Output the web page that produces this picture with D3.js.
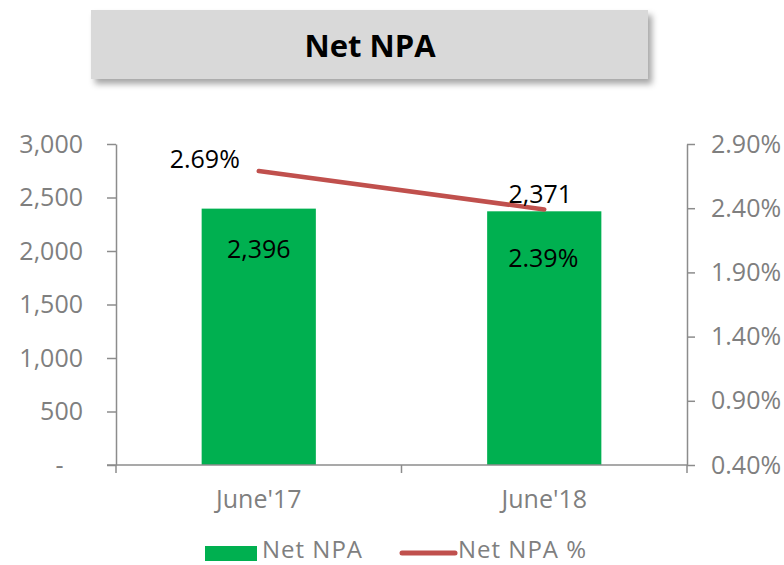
<!DOCTYPE html>
<html>
<head>
<meta charset="utf-8">
<script src="https://cdn.jsdelivr.net/npm/d3@7"></script>
<style>
    body { margin: 0; background: #fff; }
    svg { display: block; font-family: "Open Sans", sans-serif; }
</style>
</head>
<body>
<div id="chart-container"></div>
<script>
// chart data
const categories = ["June'17", "June'18"];
const netNpa = [2396, 2371];
const netNpaPct = [2.69, 2.39];
const leftTicks = [0, 500, 1000, 1500, 2000, 2500, 3000];
const rightTicks = [0.4, 0.9, 1.4, 1.9, 2.4, 2.9];
const title = "Net NPA";
const seriesNames = ["Net NPA", "Net NPA %"];

const width = 784;
const height = 565;
const axisGray = "#8c8c8c";
const labelGray = "#7f7f7f";
const green = "#00B050";
const red = "#C0504D";

const margin = { top: 144, right: 97, bottom: 100, left: 116 };

const svg = d3.select("#chart-container").append("svg")
    .attr("width", width)
    .attr("height", height);

// title box with soft shadow
const defs = svg.append("defs");
defs.append("filter")
    .attr("id", "shadow")
    .attr("x", "-10%").attr("y", "-30%")
    .attr("width", "120%").attr("height", "170%")
    .append("feDropShadow")
    .attr("dx", 4).attr("dy", 5)
    .attr("stdDeviation", 3)
    .attr("flood-color", "#000")
    .attr("flood-opacity", 0.35);

svg.append("rect")
    .attr("x", 91).attr("y", 10)
    .attr("width", 557).attr("height", 69)
    .attr("fill", "#D9D9D9")
    .attr("filter", "url(#shadow)");

svg.append("text")
    .attr("x", 370).attr("y", 57)
    .attr("text-anchor", "middle")
    .style("font-size", "31px")
    .style("font-weight", "700")
    .style("fill", "#000")
    .text(title);

// scales
const x = d3.scaleBand()
    .domain(categories)
    .range([margin.left, width - margin.right])
    .padding(0);

const y = d3.scaleLinear()
    .domain([0, 3000])
    .range([465, margin.top]);

const y2 = d3.scaleLinear()
    .domain([0.4, 2.9])
    .range([465, margin.top]);

const fmt = d3.format(",");

// left axis
const leftAxis = svg.append("g")
    .attr("transform", `translate(${margin.left},0)`)
    .call(d3.axisLeft(y)
        .tickValues(leftTicks)
        .tickSize(9)
        .tickSizeOuter(0)
        .tickPadding(24)
        .tickFormat(d => d === 0 ? "-\u00a0\u00a0\u00a0" : fmt(d)));

// right axis
const rightAxis = svg.append("g")
    .attr("transform", `translate(${width - margin.right},0)`)
    .call(d3.axisRight(y2)
        .tickValues(rightTicks)
        .tickSize(8)
        .tickSizeOuter(0)
        .tickPadding(16)
        .tickFormat(d => d.toFixed(2) + "%"));

// bottom axis (labels only, ticks at band edges drawn below)
const bottomAxis = svg.append("g")
    .attr("transform", `translate(0,${y(0)})`)
    .call(d3.axisBottom(x)
        .tickSize(0)
        .tickSizeOuter(0)
        .tickPadding(25));
bottomAxis.select(".domain").remove();

const edges = categories.map(c => x(c)).concat([x(categories[categories.length - 1]) + x.bandwidth()]);
svg.append("g").selectAll("line")
    .data(edges)
    .enter().append("line")
    .attr("x1", d => d).attr("x2", d => d)
    .attr("y1", y(0)).attr("y2", y(0) + 8)
    .attr("stroke", axisGray)
    .attr("stroke-width", 1.5);

[leftAxis, rightAxis, bottomAxis].forEach(g => {
    g.attr("font-family", null).attr("font-size", null);
    g.selectAll(".domain, .tick line")
        .attr("stroke", axisGray)
        .attr("stroke-width", 1.5);
    g.selectAll(".tick text")
        .style("font-size", "25px")
        .style("fill", labelGray);
});

// bars
const barWidth = x.bandwidth() * 0.4;
svg.append("g").selectAll("rect")
    .data(netNpa)
    .enter().append("rect")
    .attr("x", (d, i) => x(categories[i]) + (x.bandwidth() - barWidth) / 2)
    .attr("y", d => y(d))
    .attr("width", barWidth)
    .attr("height", d => y(0) - y(d))
    .attr("fill", green);

// x axis baseline drawn over bars
svg.append("line")
    .attr("x1", margin.left - 9).attr("x2", width - margin.right)
    .attr("y1", y(0)).attr("y2", y(0))
    .attr("stroke", axisGray)
    .attr("stroke-width", 1.5);

// line series
const line = d3.line()
    .x((d, i) => x(categories[i]) + x.bandwidth() / 2)
    .y(d => y2(d));

svg.append("path")
    .datum(netNpaPct)
    .attr("d", line)
    .attr("fill", "none")
    .attr("stroke", red)
    .attr("stroke-width", 4.5)
    .attr("stroke-linecap", "round");

// data labels (placement follows the original layout)
const barLabelDy = [49, -8];
svg.append("g").selectAll("text")
    .data(netNpa)
    .enter().append("text")
    .attr("x", (d, i) => x(categories[i]) + x.bandwidth() / 2 - (i === 1 ? 4 : 0))
    .attr("y", (d, i) => y(d) + barLabelDy[i])
    .attr("text-anchor", "middle")
    .style("font-size", "25px")
    .style("fill", "#000")
    .text(d => fmt(d));

const pctLabelDx = [-54, -1];
const pctLabelDy = [-3, 58];
svg.append("g").selectAll("text")
    .data(netNpaPct)
    .enter().append("text")
    .attr("x", (d, i) => x(categories[i]) + x.bandwidth() / 2 + pctLabelDx[i])
    .attr("y", (d, i) => y2(d) + pctLabelDy[i])
    .attr("text-anchor", "middle")
    .style("font-size", "25px")
    .style("fill", "#000")
    .text(d => d.toFixed(2) + "%");

// legend
const legend = svg.append("g");
legend.append("rect")
    .attr("x", 205).attr("y", 546)
    .attr("width", 52).attr("height", 15)
    .attr("fill", green);
legend.append("text")
    .attr("x", 262).attr("y", 558)
    .style("font-size", "24px")
    .style("letter-spacing", "1px")
    .style("fill", labelGray)
    .text(seriesNames[0]);
legend.append("line")
    .attr("x1", 402).attr("x2", 455)
    .attr("y1", 553).attr("y2", 553)
    .attr("stroke", red)
    .attr("stroke-width", 5)
    .attr("stroke-linecap", "round");
legend.append("text")
    .attr("x", 458).attr("y", 558)
    .style("font-size", "24px")
    .style("letter-spacing", "1px")
    .style("fill", labelGray)
    .text(seriesNames[1]);
</script>
</body>
</html>
